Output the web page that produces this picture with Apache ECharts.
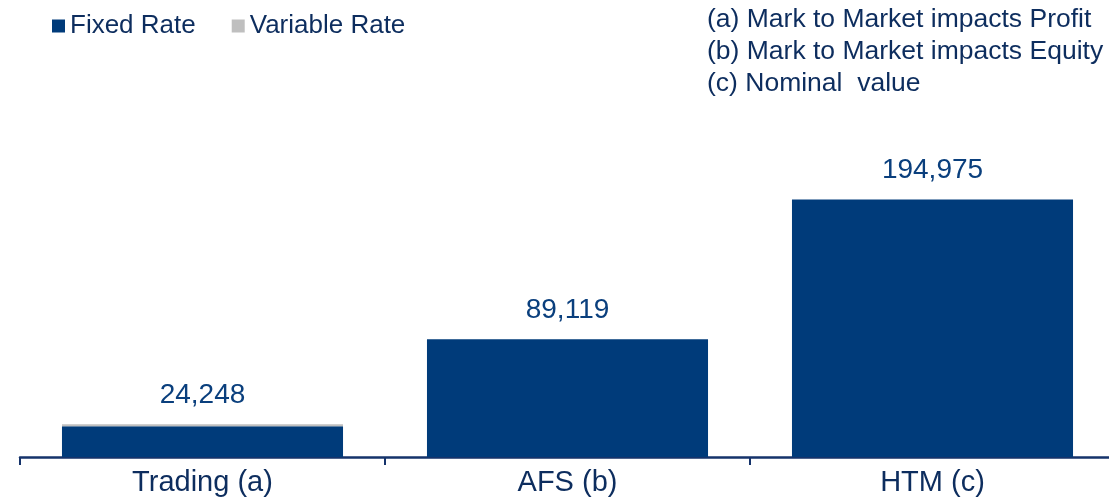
<!DOCTYPE html>
<html>
<head>
<meta charset="utf-8">
<script src="https://cdn.jsdelivr.net/npm/echarts@6/dist/echarts.min.js"></script>
<style>
html,body{margin:0;padding:0;background:#fff;}
#chart{width:1109px;height:498px;}
</style>
</head>
<body>
<div id="chart"></div>
<script>
const categories = ['Trading (a)', 'AFS (b)', 'HTM (c)'];
const fixedRate = [23248, 89119, 194975];
const variableRate = [1500, 0, 0];
const totals = [24248, 89119, 194975];
const notes = ['(a) Mark to Market impacts Profit', '(b) Mark to Market impacts Equity', '(c) Nominal  value'];

const FONT = '"Liberation Sans", Arial, sans-serif';
const NAVY = '#003b7a';
const TEXT = '#0d2d5e';

const chart = echarts.init(document.getElementById('chart'), null, {renderer: 'canvas'});
chart.setOption({
  animation: false,
  backgroundColor: '#ffffff',
  textStyle: {fontFamily: FONT},
  legend: {
    left: 47, top: 8,
    icon: 'rect', itemWidth: 13, itemHeight: 13, itemGap: 36,
    textStyle: {fontFamily: FONT, fontSize: 26, color: TEXT},
    data: ['Fixed Rate', 'Variable Rate']
  },
  graphic: notes.map((t, i) => ({
    type: 'text', left: 707, top: 6 + i * 32,
    style: {text: t, font: '26.5px ' + FONT, fill: TEXT}
  })),
  grid: {left: 20, width: 1095, top: 140, height: 317, outerBoundsMode: 'none', containLabel: false},
  xAxis: {
    type: 'category', data: categories,
    axisLine: {lineStyle: {color: '#15336b', width: 2.5}},
    axisTick: {show: true, length: 8, lineStyle: {color: '#15336b', width: 2}},
    axisLabel: {fontFamily: FONT, fontSize: 29, color: TEXT, margin: 11}
  },
  yAxis: {type: 'value', min: 0, max: 240000, show: false, splitLine: {show: false}},
  series: [
    {
      name: 'Fixed Rate', type: 'bar', stack: 'a', data: fixedRate,
      barWidth: '77%', itemStyle: {color: NAVY}
    },
    {
      name: 'Variable Rate', type: 'bar', stack: 'a', data: variableRate,
      barWidth: '77%', itemStyle: {color: '#bfbfbf'},
      label: {
        show: true, position: 'top', distance: 15,
        fontFamily: FONT, fontSize: 28, color: '#0a3f7d',
        formatter: p => totals[p.dataIndex].toLocaleString('en-US')
      }
    }
  ]
});
</script>
</body>
</html>
